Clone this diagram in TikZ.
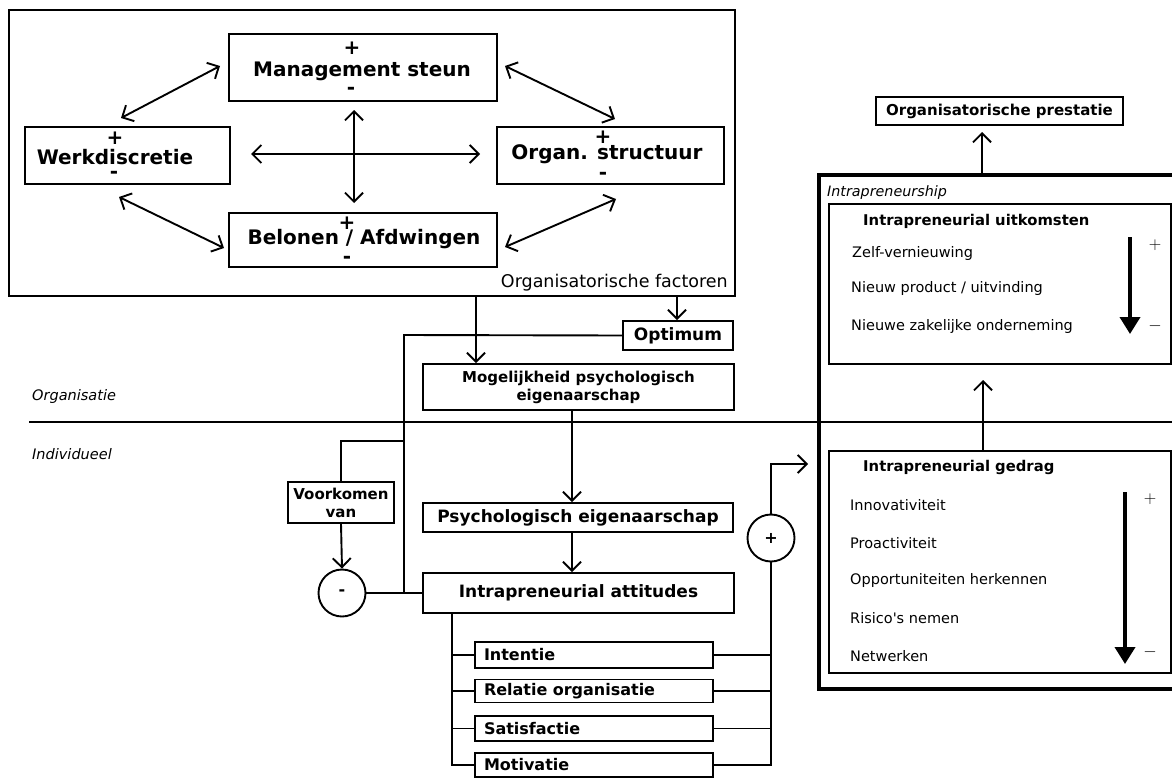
\documentclass[tikz,border=0pt]{standalone}
\usepackage{fontspec}
\setmainfont{DejaVu Sans}[Ligatures=TeXOff]
\usetikzlibrary{arrows.meta,calc}

\tikzset{
  frame/.style={draw, line width=1.9pt, inner sep=0pt},
  bigfont/.style={font=\bfseries\fontsize{20}{24}\selectfont},
  lab/.style={bigfont, inner sep=0pt},
  sgn/.style={bigfont, inner sep=0pt},
  midbox/.style={frame, font=\bfseries\fontsize{17}{20}\selectfont},
  smallbox/.style={frame, font=\bfseries\fontsize{15}{18}\selectfont, align=center},
  subbox/.style={frame, font=\bfseries\fontsize{16}{19}\selectfont,
    inner xsep=9pt, text width=220pt, align=left, minimum width=238pt},
  item/.style={font=\fontsize{14.5}{17}\selectfont, inner sep=0pt, anchor=west},
  ititle/.style={font=\bfseries\fontsize{14.8}{17}\selectfont, inner sep=0pt, anchor=west},
  side/.style={font=\itshape\fontsize{14.5}{17}\selectfont, inner sep=0pt, anchor=west},
  pm/.style={font=\fontsize{19}{19}\selectfont, inner sep=0pt},
  ln/.style={line width=1.9pt},
  conn/.style={line width=1.9pt, -{Straight Barb[length=9pt,width=18pt,line width=1.9pt]}},
  dbl/.style={line width=1.9pt, {Straight Barb[length=9pt,width=18pt,line width=1.9pt]}-{Straight Barb[length=9pt,width=18pt,line width=1.9pt]}},
  scale arrow/.style={line width=3.8pt, -{Triangle[length=17pt,width=20pt]}},
  junction/.style={draw, circle, line width=1.9pt, minimum size=47pt, inner sep=0pt,
    font=\bfseries\fontsize{16}{16}\selectfont}
}

\begin{document}
\begin{tikzpicture}[x=1pt, y=-1pt]
\useasboundingbox (0,0) rectangle (1172,779);

% ---------- organisational factors ----------
\node[frame, minimum width=726pt, minimum height=286pt] (orgf) at (372,153) {};
\node[font=\fontsize{17.5}{20}\selectfont, inner sep=0pt, anchor=east] (orgfL) at (728,283) {Organisatorische factoren};

\node[frame, minimum width=268pt, minimum height=67pt] (mgmt) at (363,67.5) {};
\node[lab] (mgmtL) at (362,71) {Management steun};
\node[sgn] (mgmtP) at (352,48) {+};
\node[sgn] (mgmtM) at (351,91) {-};

\node[frame, minimum width=205pt, minimum height=57pt] (werk) at (127.5,155.5) {};
\node[lab] (werkL) at (115,157) {Werkdiscretie};
\node[sgn] (werkP) at (115,138) {+};
\node[sgn] (werkM) at (114,175) {-};

\node[frame, minimum width=227pt, minimum height=57pt] (orgs) at (610.5,155.5) {};
\node[lab] (orgsL) at (607,154) {Organ. structuur};
\node[sgn] (orgsP) at (603,137) {+};
\node[sgn] (orgsM) at (603,176) {-};

\node[frame, minimum width=268pt, minimum height=54pt] (bel) at (363,240) {};
\node[lab] (belL) at (364,239) {Belonen / Afdwingen};
\node[sgn] (belP) at (347,223) {+};
\node[sgn] (belM) at (347,260) {-};

\coordinate (mw1) at (220,66);  \coordinate (mw2) at (121,118);
\coordinate (mo1) at (505,66);  \coordinate (mo2) at (615,119);
\coordinate (wb1) at (119,197); \coordinate (wb2) at (224,248);
\coordinate (ob1) at (616,199); \coordinate (ob2) at (505,247);
\coordinate (h1) at (251,154);  \coordinate (h2) at (480,154);
\coordinate (v1) at (354,110);  \coordinate (v2) at (354,203);
\draw[dbl] (mw1) -- (mw2);
\draw[dbl] (mo1) -- (mo2);
\draw[dbl] (wb1) -- (wb2);
\draw[dbl] (ob1) -- (ob2);
\draw[dbl] (h1) -- (h2);
\draw[dbl] (v1) -- (v2);

% ---------- psychological ownership chain ----------
\node[midbox, minimum width=110pt, minimum height=29pt] (opt) at (678,335.5) {Optimum};
\node[smallbox, minimum width=311pt, minimum height=46pt] (mog) at (578.5,387)
  {Mogelijkheid psychologisch\\eigenaarschap};
\node[midbox, minimum width=310pt, minimum height=29pt] (psy) at (578,517.5) {Psychologisch eigenaarschap};
\node[midbox, minimum width=311pt, minimum height=40pt] (att) at (578.5,593) {Intrapreneurial attitudes};

\coordinate (tapA) at (476,297);
\coordinate (tapB) at (677,297);
\draw[conn] (tapA) -- (tapA |- mog.north);
\draw[conn] (tapB) -- (tapB |- opt.north);

\coordinate (ax) at (572,0);
\draw[conn] (mog.south -| ax) -- (psy.north -| ax);
\draw[conn] (psy.south -| ax) -- (att.north -| ax);

% ---------- level separator ----------
\coordinate (sepL) at (29,422);
\coordinate (sepR) at (1172,422);
\draw[line width=1.9pt] (sepL) -- (sepR);
\node[side] (orgLvl) at (32,396) {Organisatie};
\node[side] (indLvl) at (32,454) {Individueel};

% ---------- negative feedback loop ----------
\node[smallbox, minimum width=106pt, minimum height=41pt] (vk) at (341,502.5) {Voorkomen\\van};
\node[junction] (minus) at (342,593) {-};
\coordinate (jL) at (404,335);
\coordinate (jB) at (404,441);
\draw[ln] (opt.west) -- (jL) -- (jL |- att.west);
\draw[ln] (minus.east) -- (att.west);
\draw[ln] (jB) -- (jB -| vk.north) -- (vk.north);
\draw[conn] (vk.south) -- (minus.north);

% ---------- attitude components ----------
\node[subbox, minimum height=26pt] (s1) at (594,655) {Intentie};
\node[subbox, minimum height=23pt] (s2) at (594,691) {Relatie organisatie};
\node[subbox, minimum height=25pt] (s3) at (594,728.5) {Satisfactie};
\node[subbox, minimum height=24pt] (s4) at (594,765) {Motivatie};

\coordinate (bx) at (452,0);
\draw[ln] (att.south -| bx) -- (s4.west -| bx) -- (s4.west);
\draw[ln] (s1.west -| bx) -- (s1.west);
\draw[ln] (s2.west -| bx) -- (s2.west);
\draw[ln] (s3.west -| bx) -- (s3.west);

\node[junction] (plus) at (771,538) {+};
\coordinate (rx) at (771,0);
\draw[ln] (s1.east) -- (s1.east -| rx);
\draw[ln] (s2.east) -- (s2.east -| rx);
\draw[ln] (s3.east) -- (s3.east -| rx);
\draw[ln] (s4.east) -- (s4.east -| rx) -- (plus.south);
\coordinate (up) at (771,464);
\coordinate (upR) at (808,464);
\draw[conn] (plus.north) -- (up) -- (upR);

% ---------- intrapreneurship ----------
\node[draw, line width=3.4pt, inner sep=0pt, minimum width=366pt, minimum height=514pt] (intra) at (1002,432) {};
\node[font=\itshape\fontsize{14.3}{17}\selectfont, inner sep=0pt, anchor=west] (intraL) at (827,193) {Intrapreneurship};

\node[frame, minimum width=342pt, minimum height=160pt] (uit) at (1000,284) {};
\node[ititle] (uitT) at (863,221) {Intrapreneurial uitkomsten};
\node[item] (u1) at (852,253) {Zelf-vernieuwing};
\node[item] (u2) at (851,288) {Nieuw product / uitvinding};
\node[item] (u3) at (851,326) {Nieuwe zakelijke onderneming};
\coordinate (ua1) at (1130,237);
\coordinate (ua2) at (1130,334);
\draw[scale arrow] (ua1) -- (ua2);
\node[pm] (uP) at (1155,245) {$+$};
\node[pm] (uM) at (1155,326) {$-$};

\node[frame, minimum width=342pt, minimum height=222pt] (ged) at (1000,562) {};
\node[ititle] (gedT) at (863,467) {Intrapreneurial gedrag};
\node[item] (g1) at (850,505) {Innovativiteit};
\node[item] (g2) at (850,543) {Proactiviteit};
\node[item] (g3) at (850,580) {Opportuniteiten herkennen};
\node[item] (g4) at (850,618) {Risico's nemen};
\node[item] (g5) at (850,656) {Netwerken};
\coordinate (ga1) at (1125,492);
\coordinate (ga2) at (1125,664);
\draw[scale arrow] (ga1) -- (ga2);
\node[pm] (gP) at (1150,499) {$+$};
\node[pm] (gM) at (1150,652) {$-$};

\coordinate (gu) at (983,380);
\draw[conn] (ged.north -| gu) -- (gu);

\node[smallbox, minimum width=247pt, minimum height=28pt] (pres) at (999.5,111) {Organisatorische prestatie};
\coordinate (pu) at (982,132);
\draw[conn] (intra.north -| pu) -- (pu);
\end{tikzpicture}
\end{document}
